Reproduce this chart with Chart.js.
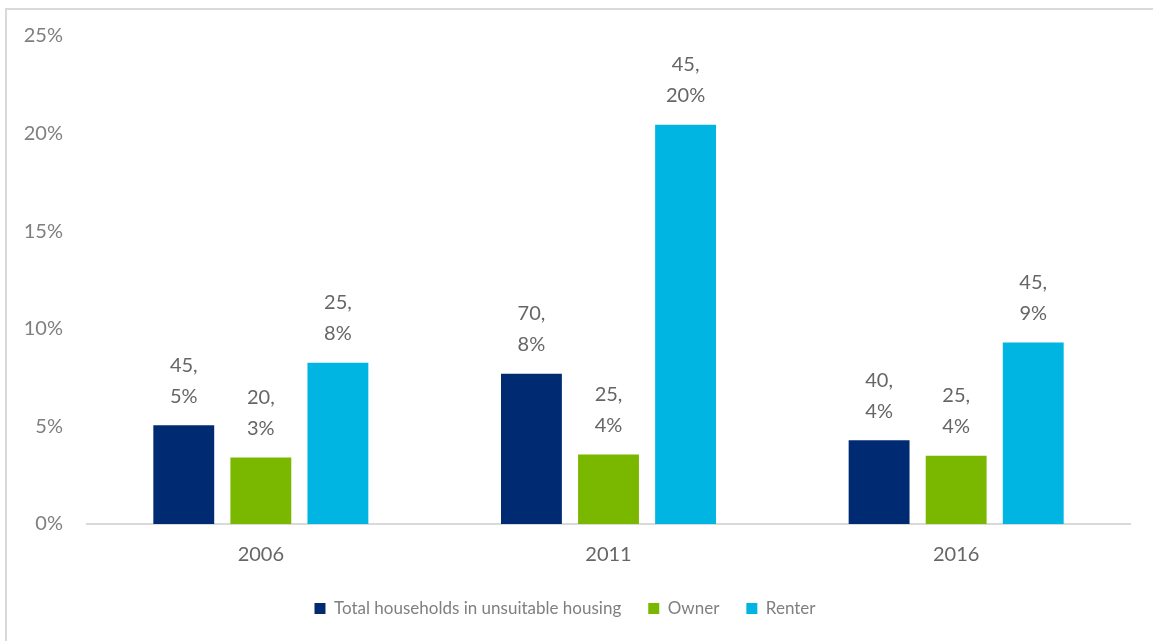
<!DOCTYPE html>
<html>
<head>
<meta charset="utf-8">
<script src="https://cdn.jsdelivr.net/npm/chart.js@4.4.1/dist/chart.umd.min.js"></script>
<style>
  html, body { margin: 0; padding: 0; background: #fff; overflow: hidden; }
  #wrap { position: absolute; left: 0; top: 0; width: 1153px; height: 641px; }
  #frame { position: absolute; left: 5px; top: 8px; width: 1200px; height: 700px; border-left: 2px solid #d9d9d9; border-top: 2px solid #d9d9d9; }
</style>
</head>
<body>
<div id="frame"></div>
<div id="wrap"><canvas id="housingChart" width="1153" height="641"></canvas></div>
<script>
  // Categories and series
  const years = ['2006', '2011', '2016'];
  const seriesNames = ['Total households in unsuitable housing', 'Owner', 'Renter'];
  const totalPct = [5.06, 7.7, 4.29];
  const ownerPct = [3.41, 3.56, 3.5];
  const renterPct = [8.26, 20.45, 9.3];
  // Counts shown in the data labels
  const totalCount = [45, 70, 40];
  const ownerCount = [20, 25, 25];
  const renterCount = [25, 45, 45];
  const yTicks = [0, 5, 10, 15, 20, 25];

  const colors = ['#002b72', '#7ab800', '#00b5e2'];
  const FONT = 'Lato, "Open Sans", sans-serif';

  // Draws "count,\npct%" above every bar
  const barLabels = {
    id: 'barLabels',
    afterDatasetsDraw(chart) {
      const ctx = chart.ctx;
      ctx.save();
      ctx.font = '20px ' + FONT;
      ctx.fillStyle = '#666666';
      ctx.textAlign = 'center';
      ctx.textBaseline = 'middle';
      chart.data.datasets.forEach((ds, i) => {
        const meta = chart.getDatasetMeta(i);
        meta.data.forEach((bar, j) => {
          ctx.fillText(ds.counts[j] + ',', bar.x, bar.y - 60);
          ctx.fillText(Math.round(ds.data[j]) + '%', bar.x, bar.y - 29);
        });
      });
      ctx.restore();
    }
  };

  const common = { borderWidth: 0, categoryPercentage: 0.665, barPercentage: 0.79 };

  const config = {
    type: 'bar',
    data: {
      labels: years,
      datasets: [
        { label: seriesNames[0], data: totalPct, counts: totalCount, backgroundColor: colors[0], ...common },
        { label: seriesNames[1], data: ownerPct, counts: ownerCount, backgroundColor: colors[1], ...common },
        { label: seriesNames[2], data: renterPct, counts: renterCount, backgroundColor: colors[2], ...common }
      ]
    },
    options: {
      responsive: false,
      animation: false,
      layout: { padding: { left: 0, right: 23, top: 33, bottom: 14 } },
      plugins: {
        legend: {
          position: 'bottom',
          labels: {
            color: '#7f7f7f',
            boxWidth: 11,
            boxHeight: 11,
            padding: 27,
            font: { family: FONT, size: 17 }
          }
        },
        tooltip: { enabled: false }
      },
      scales: {
        x: {
          afterFit(scale) { scale.height -= 13; },
          grid: { display: false, drawTicks: false },
          border: { color: '#d9d9d9', width: 2 },
          ticks: {
            color: '#666666',
            padding: 19,
            font: { family: FONT, size: 20 }
          }
        },
        y: {
          min: 0,
          max: 25,
          afterBuildTicks(scale) {
            scale.ticks = yTicks.map(v => ({ value: v }));
          },
          afterFit(scale) { scale.width = 87; },
          grid: { display: false, drawTicks: false },
          border: { display: false },
          ticks: {
            color: '#7f7f7f',
            padding: 24,
            font: { family: FONT, size: 20 },
            callback: v => v + '%'
          }
        }
      }
    },
    plugins: [barLabels]
  };

  const ctx = document.getElementById('housingChart').getContext('2d');
  new Chart(ctx, config);
</script>
</body>
</html>
